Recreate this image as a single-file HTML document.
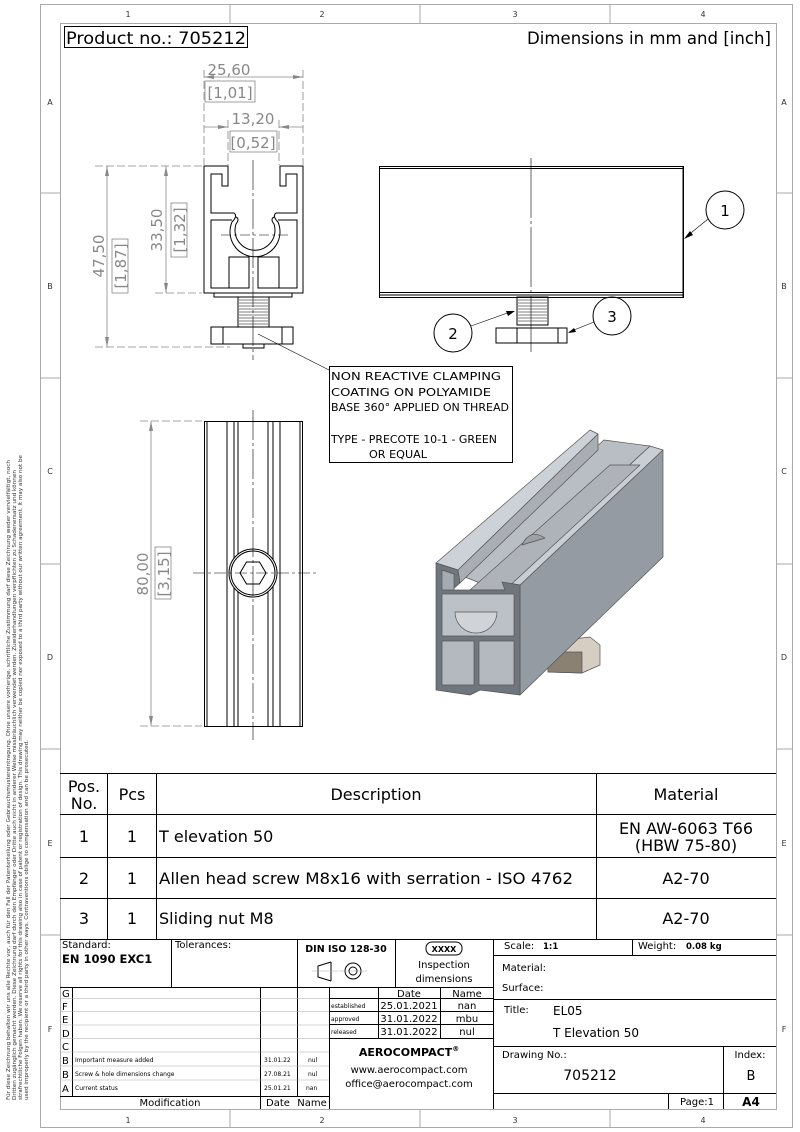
<!DOCTYPE html>
<html><head><meta charset="utf-8"><style>
html,body{margin:0;padding:0;background:#fff}
svg{display:block}
text{font-family:"DejaVu Sans","Liberation Sans",sans-serif}
</style></head><body>
<svg width="800" height="1132" viewBox="0 0 800 1132" xmlns="http://www.w3.org/2000/svg">
<rect x="40.5" y="4.5" width="752" height="1123" fill="none" stroke="#aaa" stroke-width="1"/>
<rect x="60.5" y="23.5" width="716" height="1086" fill="none" stroke="#aaa" stroke-width="1"/>
<g stroke="#aaa" stroke-width="1">
<line x1="230" y1="4" x2="230" y2="23"/><line x1="420" y1="4" x2="420" y2="23"/><line x1="610" y1="4" x2="610" y2="23"/>
<line x1="230" y1="1110" x2="230" y2="1127"/><line x1="420" y1="1110" x2="420" y2="1127"/><line x1="610" y1="1110" x2="610" y2="1127"/>
<line x1="40" y1="193" x2="60" y2="193"/><line x1="40" y1="378" x2="60" y2="378"/><line x1="40" y1="564" x2="60" y2="564"/><line x1="40" y1="749" x2="60" y2="749"/><line x1="40" y1="935" x2="60" y2="935"/>
<line x1="776" y1="193" x2="792" y2="193"/><line x1="776" y1="378" x2="792" y2="378"/><line x1="776" y1="564" x2="792" y2="564"/><line x1="776" y1="749" x2="792" y2="749"/><line x1="776" y1="935" x2="792" y2="935"/>
</g>
<g font-size="8" fill="#333" text-anchor="middle">
<text x="128" y="17">1</text><text x="322" y="17">2</text><text x="515" y="17">3</text><text x="703" y="17">4</text>
<text x="128" y="1123">1</text><text x="322" y="1123">2</text><text x="515" y="1123">3</text><text x="703" y="1123">4</text>
<text x="50" y="105">A</text><text x="50" y="289">B</text><text x="50" y="474">C</text><text x="50" y="660">D</text><text x="50" y="846">E</text><text x="50" y="1032">F</text>
<text x="784" y="105">A</text><text x="784" y="289">B</text><text x="784" y="474">C</text><text x="784" y="660">D</text><text x="784" y="846">E</text><text x="784" y="1032">F</text>
</g>
<g font-size="5" fill="#333">
<text transform="translate(10,1100) rotate(-90)" textLength="640" lengthAdjust="spacingAndGlyphs">Für diese Zeichnung behalten wir uns alle Rechte vor, auch für den Fall der Patenterteilung oder Gebrauchsmustereintragung. Ohne unsere vorherige, schriftliche Zustimmung darf diese Zeichnung weder vervielfältigt, noch</text>
<text transform="translate(16,1100) rotate(-90)" textLength="630" lengthAdjust="spacingAndGlyphs">Dritten zugänglich gemacht werden. Diese Zeichnung darf durch den Empfänger oder Dritte auch nicht in anderer Weise missbräuchlich verwendet werden. Zuwiderhandlungen verpflichten zu Schadenersatz und können</text>
<text transform="translate(22,1100) rotate(-90)" textLength="645" lengthAdjust="spacingAndGlyphs">strafrechtliche Folgen haben. We reserve all rights for this drawing also in case of patent or registration of design. This drawing may neither be copied nor exposed to a third party without our written agreement. It may also not be</text>
<text transform="translate(28,1100) rotate(-90)" textLength="360" lengthAdjust="spacingAndGlyphs">used improperly by the recipient or a third party in other ways. Contraventions oblige to compensation and can be prosecuted.</text>
</g>
<rect x="64.5" y="26.5" width="183" height="21" fill="none" stroke="#000"/>
<text x="66" y="44" font-size="17" fill="#000" textLength="180" lengthAdjust="spacingAndGlyphs">Product no.: 705212</text>
<text x="771" y="44" font-size="17" fill="#000" text-anchor="end" textLength="244" lengthAdjust="spacingAndGlyphs">Dimensions in mm and [inch]</text>

<g stroke="#888" stroke-width="0.8" fill="none">
<line x1="204" y1="70" x2="204" y2="165" stroke-dasharray="8,3"/>
<line x1="303" y1="70" x2="303" y2="165" stroke-dasharray="8,3"/>
<line x1="228" y1="120" x2="228" y2="165" stroke-dasharray="8,3"/>
<line x1="279" y1="120" x2="279" y2="165" stroke-dasharray="8,3"/>
<line x1="204" y1="77" x2="303" y2="77"/>
<line x1="204" y1="127" x2="228" y2="127"/><line x1="279" y1="127" x2="303" y2="127"/>
<line x1="95" y1="166" x2="202" y2="166" stroke-dasharray="8,3"/>
<line x1="155" y1="293" x2="202" y2="293" stroke-dasharray="8,3"/>
<line x1="95" y1="347" x2="230" y2="347" stroke-dasharray="8,3"/>
<line x1="107" y1="166" x2="107" y2="347"/>
<line x1="166" y1="166" x2="166" y2="293"/>
<rect x="205" y="81" width="50" height="21"/>
<rect x="230" y="131" width="47" height="21"/>
<rect x="112" y="239" width="16" height="54"/>
<rect x="171" y="203" width="16" height="54"/>
</g>
<g fill="#888">
<polygon points="204,77 214,75 214,79"/><polygon points="303,77 293,75 293,79"/>
<polygon points="228,127 218,125 218,129"/><polygon points="279,127 289,125 289,129"/>
<polygon points="107,166 105,176 109,176"/><polygon points="107,347 105,337 109,337"/>
<polygon points="166,166 164,176 168,176"/><polygon points="166,293 164,283 168,283"/>
</g>
<g fill="#888" font-size="15">
<text x="229" y="75" text-anchor="middle">25,60</text>
<text x="230" y="98" text-anchor="middle">[1,01]</text>
<text x="253" y="124" text-anchor="middle">13,20</text>
<text x="253" y="148" text-anchor="middle">[0,52]</text>
<text transform="translate(104,256) rotate(-90)" text-anchor="middle">47,50</text>
<text transform="translate(126,266) rotate(-90)" text-anchor="middle">[1,87]</text>
<text transform="translate(162,230) rotate(-90)" text-anchor="middle">33,50</text>
<text transform="translate(185,230) rotate(-90)" text-anchor="middle">[1,32]</text>
</g>
<g stroke="#000" stroke-width="1" fill="none">
<path d="M228,166 V186 H222 V174 H211 V213 H234 Q238,216 232,222 A25,25 0 1 0 278,222 Q272,216 276,213 H297 V174 H286 V186 H280 V166 H303 V293 H204 V166 Z"/>
<path d="M236,217 Q240,219 236,224 A20,20 0 1 0 274,224 Q270,219 274,217"/>
<path d="M232,220 H211 V288 H249 V260"/>
<path d="M278,220 H297 V288 H258 V260"/>
<rect x="229" y="257" width="20" height="31"/>
<rect x="258" y="257" width="21" height="31"/>
<path d="M214,293 V297 H292 V293"/>
<rect x="238" y="297" width="31" height="30"/>
<rect x="211" y="327" width="82" height="17"/>
<line x1="223" y1="327" x2="223" y2="344"/><line x1="282" y1="327" x2="282" y2="344"/>
<path d="M243,344 V348 H264 V344"/>
</g>
<g stroke="#000" stroke-width="0.6">
<line x1="239" y1="300" x2="268" y2="300"/><line x1="239" y1="303" x2="268" y2="303"/><line x1="239" y1="306" x2="268" y2="306"/><line x1="239" y1="309" x2="268" y2="309"/><line x1="239" y1="312" x2="268" y2="312"/><line x1="239" y1="315" x2="268" y2="315"/><line x1="239" y1="318" x2="268" y2="318"/><line x1="239" y1="321" x2="268" y2="321"/><line x1="239" y1="324" x2="268" y2="324"/>
<line x1="253" y1="160" x2="253" y2="360" stroke-dasharray="30,3,3,3"/>
<line x1="221" y1="235" x2="288" y2="235" stroke-dasharray="10,3,3,3"/>
<line x1="258" y1="334" x2="329" y2="370"/>
</g>
<rect x="329.5" y="366.5" width="183" height="96" fill="#fff" stroke="#000"/>
<g font-size="10.5" fill="#000">
<text x="331" y="380" textLength="170" lengthAdjust="spacingAndGlyphs">NON REACTIVE CLAMPING</text>
<text x="331" y="396" textLength="160" lengthAdjust="spacingAndGlyphs">COATING ON POLYAMIDE</text>
<text x="331" y="411" textLength="178" lengthAdjust="spacingAndGlyphs">BASE 360° APPLIED ON THREAD</text>
<text x="331" y="443" textLength="166" lengthAdjust="spacingAndGlyphs">TYPE - PRECOTE 10-1 - GREEN</text>
<text x="369" y="458" textLength="58" lengthAdjust="spacingAndGlyphs">OR EQUAL</text>
</g>

<g stroke="#000" stroke-width="1" fill="none">
<rect x="379.5" y="166.5" width="304" height="131"/>
<line x1="379" y1="168.5" x2="684" y2="168.5"/>
<line x1="379" y1="292.5" x2="684" y2="292.5"/>
<line x1="379" y1="295" x2="684" y2="295"/>
<line x1="683" y1="166" x2="683" y2="297"/>
<rect x="517" y="297" width="31" height="28"/>
<rect x="496" y="328" width="71" height="15"/>
<line x1="517" y1="328" x2="517" y2="343"/><line x1="558" y1="328" x2="558" y2="343"/>
<circle cx="725" cy="210" r="19"/>
<circle cx="453" cy="333" r="19"/>
<circle cx="612" cy="316" r="19"/>
</g>
<g stroke="#000" stroke-width="0.6">
<line x1="518" y1="300" x2="547" y2="300"/><line x1="518" y1="303" x2="547" y2="303"/><line x1="518" y1="306" x2="547" y2="306"/><line x1="518" y1="309" x2="547" y2="309"/><line x1="518" y1="312" x2="547" y2="312"/><line x1="518" y1="315" x2="547" y2="315"/><line x1="518" y1="318" x2="547" y2="318"/><line x1="518" y1="321" x2="547" y2="321"/>
<line x1="531" y1="158" x2="531" y2="352" stroke-dasharray="60,3,3,3"/>
<line x1="708" y1="219" x2="686" y2="237"/>
<line x1="471" y1="326" x2="513" y2="311"/>
<line x1="594" y1="322" x2="569" y2="332"/>
</g>
<g fill="#000">
<polygon points="684,239 690,231 693,235"/>
<polygon points="515,311 506,311 508,316"/>
<polygon points="568,333 574,328 576,332"/>
</g>
<g font-size="15" fill="#000" text-anchor="middle">
<text x="725" y="216">1</text><text x="453" y="339">2</text><text x="612" y="322">3</text>
</g>

<g stroke="#888" stroke-width="0.8" fill="none">
<line x1="140" y1="421" x2="202" y2="421" stroke-dasharray="8,3"/>
<line x1="140" y1="726" x2="202" y2="726" stroke-dasharray="8,3"/>
<line x1="151" y1="421" x2="151" y2="726"/>
<rect x="155" y="547" width="16" height="52"/>
</g>
<g fill="#888"><polygon points="151,421 149,431 153,431"/><polygon points="151,726 149,716 153,716"/></g>
<g fill="#888" font-size="15">
<text transform="translate(148,574) rotate(-90)" text-anchor="middle">80,00</text>
<text transform="translate(169,574) rotate(-90)" text-anchor="middle">[3,15]</text>
</g>
<g stroke="#000" stroke-width="1" fill="none">
<rect x="204.5" y="421.5" width="98" height="305"/>
<line x1="207" y1="421" x2="207" y2="727"/><line x1="300" y1="421" x2="300" y2="727"/>
<line x1="227" y1="421" x2="227" y2="727"/><line x1="234" y1="421" x2="234" y2="727"/><line x1="238" y1="421" x2="238" y2="727"/>
<line x1="268" y1="421" x2="268" y2="727"/><line x1="273" y1="421" x2="273" y2="727"/><line x1="280" y1="421" x2="280" y2="727"/>
<circle cx="253" cy="573" r="24" fill="#fff"/>
<circle cx="253" cy="573" r="22"/>
<polygon points="266,573 259.5,584 246.5,584 240,573 246.5,562 259.5,562" fill="#fff"/>
</g>
<g stroke="#000" stroke-width="0.6">
<line x1="253" y1="410" x2="253" y2="740" stroke-dasharray="30,3,3,3"/>
<line x1="193" y1="573" x2="316" y2="573" stroke-dasharray="12,3,3,3"/>
</g>

<!-- ISO 3D -->
<g stroke="#555" stroke-width="0.7" stroke-linejoin="round">
<polygon points="548,642 590,637 600,645 600,665 582,673 548,672" fill="#d6cec2"/>
<polygon points="548,652 582,652 582,673 548,672" fill="#8a8172"/>
<polygon points="520,585 663,450 663,557 520,695" fill="#959ba3"/>
<polygon points="502,582 650,446 663,450 520,585" fill="#c9ced4"/>
<polygon points="455,573 604,440 650,446 502,582 485,585" fill="#b9bec5"/>
<polygon points="470,590 610,465 640,465 505,590" fill="#aeb3ba"/>
<polygon points="436,563 590,430 598,434 458,570" fill="#cdd2d8"/>
<polygon points="458,570 598,434 598,450 460,583" fill="#a9aeb5"/>
<polygon points="436,563 458,570 460,583 452,590 505,590 502,582 520,585 520,695 480,690 470,695 436,690" fill="#70767d"/>
<polygon points="442,570 454,574 454,590 442,590" fill="#a6abb2"/>
<rect x="442" y="594" width="72" height="42" fill="#bcc1c7"/>
<path d="M455,612 A21,21 0 1 0 497,612 Z" fill="#d0d4d9"/>
<rect x="442" y="641" width="32" height="44" fill="#b4b9c0"/>
<rect x="479" y="641" width="35" height="44" fill="#b4b9c0"/>
<path d="M522,545 Q530,528 545,538 Z" fill="#9ca1a8"/>
</g>

<g stroke="#000" stroke-width="1" fill="none">
<line x1="60" y1="773.5" x2="776" y2="773.5"/>
<line x1="60" y1="814.5" x2="776" y2="814.5"/>
<line x1="60" y1="857.5" x2="776" y2="857.5"/>
<line x1="60" y1="898.5" x2="776" y2="898.5"/>
<line x1="107.5" y1="773" x2="107.5" y2="939"/>
<line x1="156.5" y1="773" x2="156.5" y2="939"/>
<line x1="596.5" y1="773" x2="596.5" y2="939"/>
</g>
<g font-size="16" fill="#000">
<text x="84" y="792" text-anchor="middle">Pos.</text><text x="84" y="809" text-anchor="middle">No.</text>
<text x="132" y="800" text-anchor="middle">Pcs</text>
<text x="376" y="800" text-anchor="middle">Description</text>
<text x="686" y="800" text-anchor="middle">Material</text>
<text x="84" y="842" text-anchor="middle">1</text><text x="132" y="842" text-anchor="middle">1</text>
<text x="159" y="842">T elevation 50</text>
<text x="686" y="834" text-anchor="middle">EN AW-6063 T66</text>
<text x="686" y="851" text-anchor="middle">(HBW 75-80)</text>
<text x="84" y="884" text-anchor="middle">2</text><text x="132" y="884" text-anchor="middle">1</text>
<text x="159" y="884" textLength="414" lengthAdjust="spacingAndGlyphs">Allen head screw M8x16 with serration - ISO 4762</text>
<text x="686" y="884" text-anchor="middle">A2-70</text>
<text x="84" y="924" text-anchor="middle">3</text><text x="132" y="924" text-anchor="middle">1</text>
<text x="159" y="924">Sliding nut M8</text>
<text x="686" y="924" text-anchor="middle">A2-70</text>
</g>

<g stroke="#000" stroke-width="1" fill="none">
<line x1="60" y1="939.5" x2="776" y2="939.5"/>
<line x1="171.5" y1="939" x2="171.5" y2="987"/>
<line x1="297.5" y1="939" x2="297.5" y2="1096"/>
<line x1="395.5" y1="939" x2="395.5" y2="987"/>
<line x1="493.5" y1="939" x2="493.5" y2="1109"/>
<line x1="60" y1="987.5" x2="493" y2="987.5"/>
<line x1="60" y1="1096.5" x2="329" y2="1096.5"/>
<line x1="72.5" y1="987" x2="72.5" y2="1096"/>
<line x1="260.5" y1="987" x2="260.5" y2="1109"/>
<line x1="329.5" y1="987" x2="329.5" y2="1109"/>
<line x1="378.5" y1="987" x2="378.5" y2="1038"/>
<line x1="440.5" y1="987" x2="440.5" y2="1038"/>
<line x1="329" y1="998.5" x2="493" y2="998.5"/>
<line x1="329" y1="1011.5" x2="493" y2="1011.5"/>
<line x1="329" y1="1024.5" x2="493" y2="1024.5"/>
<line x1="329" y1="1038.5" x2="493" y2="1038.5"/>
<line x1="493" y1="955.5" x2="776" y2="955.5"/>
<line x1="632.5" y1="939" x2="632.5" y2="955"/>
<line x1="493" y1="999.5" x2="776" y2="999.5"/>
<line x1="493" y1="1046.5" x2="776" y2="1046.5"/>
<line x1="493" y1="1093.5" x2="776" y2="1093.5"/>
<line x1="723.5" y1="1046" x2="723.5" y2="1109"/>
<line x1="668.5" y1="1093" x2="668.5" y2="1109"/>
<rect x="426" y="942" width="36" height="13" rx="6"/>
<polyline points="331,962 318,966 318,977 331,981" />
<line x1="331" y1="962" x2="331" y2="981"/>
<circle cx="353" cy="971" r="8"/><circle cx="353" cy="971" r="4"/>
</g>
<g stroke="#aaa" stroke-width="0.6">
<line x1="60" y1="998.5" x2="329" y2="998.5"/><line x1="60" y1="1011.5" x2="329" y2="1011.5"/><line x1="60" y1="1025" x2="329" y2="1025"/><line x1="60" y1="1038.5" x2="329" y2="1038.5"/><line x1="60" y1="1052" x2="329" y2="1052"/><line x1="60" y1="1066" x2="329" y2="1066"/><line x1="60" y1="1080" x2="329" y2="1080"/>
<line x1="312" y1="971" x2="338" y2="971"/><line x1="339" y1="971" x2="367" y2="971"/>
</g>
<g fill="#000" font-size="10">
<text x="62" y="948">Standard:</text>
<text x="62" y="963" font-weight="bold" font-size="11.5">EN 1090 EXC1</text>
<text x="175" y="948">Tolerances:</text>
<text x="346" y="952" font-weight="bold" text-anchor="middle" font-size="9.5">DIN ISO 128-30</text>
<text x="444" y="952" font-weight="bold" text-anchor="middle" font-size="8">XXXX</text>
<text x="444" y="968" text-anchor="middle">Inspection</text>
<text x="444" y="982" text-anchor="middle">dimensions</text>
<text x="62" y="997">G</text><text x="62" y="1010">F</text><text x="62" y="1023">E</text><text x="62" y="1037">D</text><text x="62" y="1050">C</text><text x="62" y="1064">B</text><text x="62" y="1078">B</text><text x="62" y="1092">A</text>
<g font-size="6">
<text x="75" y="1062">Important measure added</text><text x="264" y="1062">31.01.22</text><text x="308" y="1062">nul</text>
<text x="75" y="1076">Screw &amp; hole dimensions change</text><text x="264" y="1076">27.08.21</text><text x="308" y="1076">nul</text>
<text x="75" y="1090">Current status</text><text x="264" y="1090">25.01.21</text><text x="306" y="1090">nan</text>
<text x="331" y="1008">established</text><text x="331" y="1021">approved</text><text x="331" y="1034">released</text>
</g>
<text x="409" y="997" text-anchor="middle">Date</text><text x="467" y="997" text-anchor="middle">Name</text>
<text x="409" y="1009" text-anchor="middle">25.01.2021</text><text x="467" y="1009" text-anchor="middle">nan</text>
<text x="409" y="1022" text-anchor="middle">31.01.2022</text><text x="467" y="1022" text-anchor="middle">mbu</text>
<text x="409" y="1035" text-anchor="middle">31.01.2022</text><text x="467" y="1035" text-anchor="middle">nul</text>
<text x="409" y="1056" text-anchor="middle" font-weight="bold" font-size="11">AEROCOMPACT<tspan font-size="7" dy="-5">®</tspan></text>
<text x="409" y="1073" text-anchor="middle">www.aerocompact.com</text>
<text x="409" y="1087" text-anchor="middle">office@aerocompact.com</text>
<text x="170" y="1106" text-anchor="middle">Modification</text>
<text x="278" y="1106" text-anchor="middle">Date</text><text x="312" y="1106" text-anchor="middle">Name</text>
<text x="504" y="949">Scale:</text><text x="543" y="949" font-weight="bold" font-size="8.5">1:1</text>
<text x="638" y="949">Weight:</text><text x="686" y="949" font-weight="bold" font-size="8.5">0.08 kg</text>
<text x="502" y="971">Material:</text>
<text x="502" y="991">Surface:</text>
<text x="504" y="1013">Title:</text>
<text x="553" y="1015" font-size="12">EL05</text>
<text x="553" y="1037" font-size="12">T Elevation 50</text>
<text x="502" y="1058">Drawing No.:</text>
<text x="590" y="1080" text-anchor="middle" font-size="14">705212</text>
<text x="750" y="1058" text-anchor="middle">Index:</text>
<text x="751" y="1080" text-anchor="middle" font-size="13">B</text>
<text x="697" y="1105" text-anchor="middle">Page:1</text>
<text x="751" y="1106" text-anchor="middle" font-weight="bold" font-size="12">A4</text>
</g>
</svg>
</body></html>
